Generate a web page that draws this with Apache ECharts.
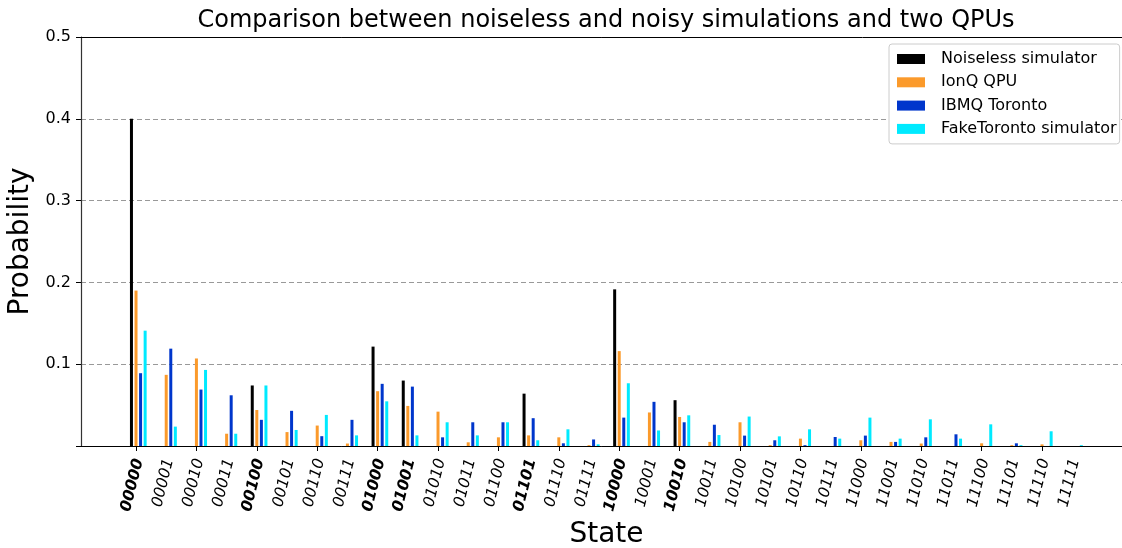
<!DOCTYPE html>
<html>
<head>
<meta charset="utf-8">
<script src="https://cdn.jsdelivr.net/npm/echarts@6/dist/echarts.min.js"></script>
<style>
html,body{margin:0;padding:0;background:#fff;}
#chart{width:1122px;height:548px;}
</style>
</head>
<body>
<div id="chart"></div>
<script>
const states = ['00000','00001','00010','00011','00100','00101','00110','00111',
  '01000','01001','01010','01011','01100','01101','01110','01111',
  '10000','10001','10010','10011','10100','10101','10110','10111',
  '11000','11001','11010','11011','11100','11101','11110','11111'];
const boldStates = ['00000','00100','01000','01001','01101','10000','10010'];
const yTicks = [0, 0.1, 0.2, 0.3, 0.4, 0.5];
const seriesNames = ['Noiseless simulator','IonQ QPU','IBMQ Toronto','FakeToronto simulator'];
const noiseless = [0.4,0,0,0,0.074,0,0,0,0.1215,0.080,0,0,0,0.064,0,0,
  0.1915,0,0.056,0,0,0,0,0,0,0,0,0,0,0,0,0];
const ionq = [0.19,0.087,0.107,0.015,0.044,0.017,0.025,0.003,0.067,0.049,0.042,0.0045,0.0106,0.013,0.0106,0.001,
  0.116,0.041,0.0355,0.005,0.029,0.001,0.009,0,0.007,0.005,0.003,0,0.0033,0.001,0.002,0];
const ibmq = [0.089,0.119,0.069,0.062,0.032,0.043,0.012,0.032,0.076,0.0726,0.0106,0.029,0.029,0.034,0.0033,0.008,
  0.0347,0.054,0.029,0.026,0.0127,0.007,0.001,0.011,0.0127,0.005,0.0106,0.0143,0,0.0033,0,0];
const fakeToronto = [0.141,0.0237,0.093,0.015,0.074,0.0196,0.038,0.013,0.0546,0.013,0.029,0.013,0.029,0.007,0.0204,0.002,
  0.0767,0.019,0.0375,0.0134,0.036,0.0118,0.0204,0.009,0.0347,0.009,0.0326,0.009,0.0265,0.001,0.018,0.001];
const colors = ['#000000','#fb9a2b','#0036cc','#00eaff'];

const FONT = 'DejaVu Sans';
const chart = echarts.init(document.getElementById('chart'), null, {renderer:'canvas'});
const gTop = 37, gHeight = 409, band = 30.2, firstTick = 136;
const catData = states.map(s => ({
  value: s,
  textStyle: boldStates.includes(s) ? {fontWeight:'bold'} : {fontWeight:'normal'}
}));
const yMin = yTicks[0], yMax = yTicks[yTicks.length-1];

const hiddenY = (gi) => ({type:'value', gridIndex:gi, min:yMin, max:yMax, interval:0.1,
  axisLine:{show:false}, axisTick:{show:false}, axisLabel:{show:false}, splitLine:{show:false}});
const mkGrid = (left, width) => ({left:left, top:gTop, width:width, height:gHeight,
  containLabel:false, outerBoundsMode:'none'});

const data = [noiseless, ionq, ibmq, fakeToronto];
chart.setOption({
  animation:false,
  textStyle:{fontFamily:FONT},
  title:{
    text:'Comparison between noiseless and noisy simulations and two QPUs',
    left:601, top:4, textAlign:'center',
    textStyle:{fontFamily:FONT, fontSize:24, fontWeight:'normal', color:'#000'}
  },
  legend:{
    orient:'vertical', left:889, top:44,
    data:seriesNames,
    itemWidth:28, itemHeight:10, itemGap:7.3,
    icon:'rect',
    padding:[7,3,7,8],
    borderColor:'#cccccc', borderWidth:1, borderRadius:3,
    backgroundColor:'#ffffff',
    textStyle:{fontFamily:FONT, fontSize:16, color:'#000', padding:[0,0,0,11], lineHeight:16}
  },
  grid:[
    mkGrid(81, 1051),
    mkGrid(firstTick - band/2, band*32),
    mkGrid(firstTick - band/2 + 2.3, band*32),
    mkGrid(firstTick - band/2 + 3, band*32)
  ],
  xAxis:[
    {type:'value', gridIndex:0, min:0, max:1, position:'bottom',
      name:'State', nameLocation:'middle', nameGap:75,
      nameTextStyle:{fontFamily:FONT, fontSize:28, color:'#000'},
      axisLine:{show:true, lineStyle:{color:'#000', width:1}},
      axisTick:{show:false}, axisLabel:{show:false}, splitLine:{show:false}},
    {type:'value', gridIndex:0, min:0, max:1, position:'top',
      axisLine:{show:true, lineStyle:{color:'#000', width:1}},
      axisTick:{show:false}, axisLabel:{show:false}, splitLine:{show:false}},
    {type:'category', gridIndex:1, data:states, boundaryGap:true,
      axisLine:{show:false},
      axisTick:{show:true, alignWithLabel:true, length:5, lineStyle:{color:'#000', width:1}},
      axisLabel:{show:false}},
    {type:'category', gridIndex:2, data:states, boundaryGap:true, show:false},
    {type:'category', gridIndex:3, data:catData, boundaryGap:true,
      axisLine:{show:false}, axisTick:{show:false},
      axisLabel:{show:true, interval:0, rotate:76, margin:13, align:'right', verticalAlign:'top',
        fontFamily:FONT, fontSize:15.5, fontStyle:'italic', color:'#000'}}
  ],
  yAxis:[
    {type:'value', gridIndex:0, min:yMin, max:yMax, interval:0.1,
      name:'Probability', nameLocation:'middle', nameGap:40,
      nameTextStyle:{fontFamily:FONT, fontSize:28, color:'#000'},
      axisLine:{show:true, lineStyle:{color:'#333', width:1.2}},
      axisTick:{show:true, length:5, lineStyle:{color:'#000'}},
      axisLabel:{fontFamily:FONT, fontSize:16, color:'#000', margin:10,
        formatter: v => v === 0 ? '' : v.toFixed(1)},
      splitLine:{show:true, lineStyle:{color:'#999', type:[5,3], width:1}}},
    hiddenY(1),
    hiddenY(2),
    hiddenY(3)
  ],
  series: data.map((d,i) => ({
    name:seriesNames[i], type:'bar', xAxisIndex:3, yAxisIndex:2,
    data:d, barWidth:3, barGap:'52%',
    itemStyle:{color:colors[i]}, z:3
  }))
});
</script>
</body>
</html>
